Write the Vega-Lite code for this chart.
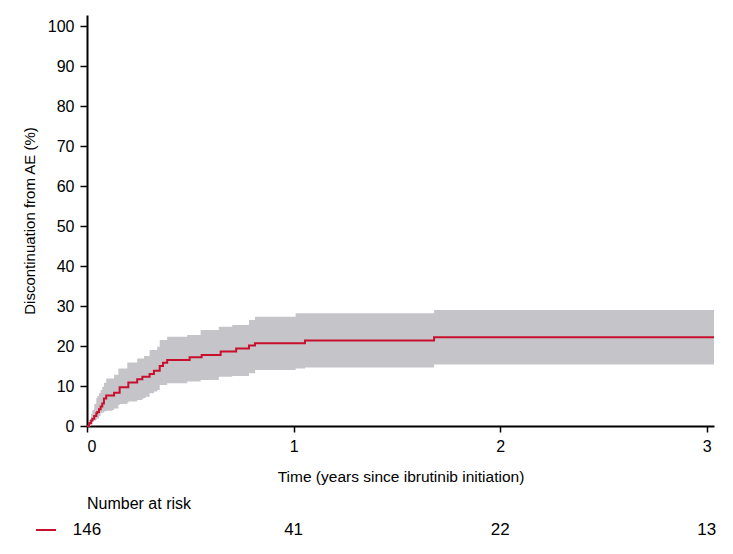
{
  "$schema": "https://vega.github.io/schema/vega-lite/v6.json",
  "padding": {"left": 22, "top": 15, "right": 5, "bottom": 5},
  "background": "white",
  "config": {
    "view": {"stroke": null},
    "font": "Liberation Sans",
    "concat": {"spacing": 11}
  },
  "datasets": {
    "km": [
      {"t": 0, "est": 0, "lo": 0, "hi": 0},
      {"t": 0.01, "est": 0.7, "lo": 0, "hi": 1.5},
      {"t": 0.02, "est": 1.4, "lo": 0.5, "hi": 3.0},
      {"t": 0.026, "est": 1.8, "lo": 1.1, "hi": 4.0},
      {"t": 0.035, "est": 2.5, "lo": 1.4, "hi": 5.5},
      {"t": 0.045, "est": 3.2, "lo": 1.7, "hi": 7.0},
      {"t": 0.05, "est": 3.5, "lo": 1.9, "hi": 7.5},
      {"t": 0.058, "est": 4.2, "lo": 2.5, "hi": 8.2},
      {"t": 0.066, "est": 4.9, "lo": 3.2, "hi": 9.0},
      {"t": 0.074, "est": 5.6, "lo": 3.4, "hi": 9.8},
      {"t": 0.082, "est": 6.9, "lo": 3.6, "hi": 10.8},
      {"t": 0.093, "est": 7.6, "lo": 3.8, "hi": 11.9},
      {"t": 0.123, "est": 7.6, "lo": 4.0, "hi": 11.9},
      {"t": 0.131, "est": 8.3, "lo": 4.4, "hi": 12.8},
      {"t": 0.152, "est": 8.3, "lo": 5.25, "hi": 14.4},
      {"t": 0.158, "est": 9.7, "lo": 5.5, "hi": 14.4},
      {"t": 0.195, "est": 9.7, "lo": 5.8, "hi": 15.9},
      {"t": 0.2, "est": 10.9, "lo": 6.1, "hi": 15.9},
      {"t": 0.243, "est": 11.7, "lo": 6.5, "hi": 16.9},
      {"t": 0.268, "est": 12.3, "lo": 6.9, "hi": 16.9},
      {"t": 0.276, "est": 12.3, "lo": 7.0, "hi": 17.5},
      {"t": 0.284, "est": 12.3, "lo": 7.3, "hi": 17.5},
      {"t": 0.303, "est": 13.0, "lo": 8.2, "hi": 19.0},
      {"t": 0.324, "est": 13.8, "lo": 8.6, "hi": 19.0},
      {"t": 0.34, "est": 13.8, "lo": 9.0, "hi": 19.8},
      {"t": 0.352, "est": 15.0, "lo": 10.25, "hi": 21.5},
      {"t": 0.368, "est": 15.8, "lo": 10.25, "hi": 21.5},
      {"t": 0.388, "est": 16.5, "lo": 10.7, "hi": 22.3},
      {"t": 0.485, "est": 16.5, "lo": 11.1, "hi": 22.75},
      {"t": 0.497, "est": 17.2, "lo": 11.1, "hi": 22.75},
      {"t": 0.55, "est": 17.2, "lo": 11.5, "hi": 24.0},
      {"t": 0.555, "est": 17.75, "lo": 11.5, "hi": 24.0},
      {"t": 0.638, "est": 17.75, "lo": 12.3, "hi": 24.8},
      {"t": 0.647, "est": 18.6, "lo": 12.3, "hi": 24.8},
      {"t": 0.703, "est": 18.6, "lo": 12.5, "hi": 25.25},
      {"t": 0.722, "est": 19.4, "lo": 12.5, "hi": 25.25},
      {"t": 0.784, "est": 20.1, "lo": 13.2, "hi": 26.5},
      {"t": 0.813, "est": 20.7, "lo": 14.0, "hi": 27.3},
      {"t": 1.01, "est": 20.7, "lo": 14.4, "hi": 28.2},
      {"t": 1.055, "est": 21.4, "lo": 14.6, "hi": 28.2},
      {"t": 1.68, "est": 22.2, "lo": 15.4, "hi": 29.0},
      {"t": 3.035, "est": 22.2, "lo": 15.4, "hi": 29.0}
    ],
    "risk": [
      {"t": 0, "n": 146, "grp": "all"},
      {"t": 1, "n": 41, "grp": "all"},
      {"t": 2, "n": 22, "grp": "all"},
      {"t": 3, "n": 13, "grp": "all"}
    ]
  },
  "vconcat": [
    {
      "width": 627,
      "height": 411,
      "data": {"name": "km"},
      "encoding": {
        "x": {
          "field": "t",
          "type": "quantitative",
          "scale": {"domain": [0, 3.035], "nice": false, "zero": false},
          "axis": {
            "values": [0, 1, 2, 3],
            "format": "d",
            "title": "Time (years since ibrutinib initiation)",
            "titleFont": "Liberation Sans",
            "titleFontSize": 15.5,
            "titleFontWeight": "normal",
            "titleColor": "black",
            "titlePadding": 15,
            "labelFont": "Liberation Sans",
            "labelFontSize": 16,
            "labelColor": "black",
            "labelPadding": 6,
            "domainColor": "black",
            "domainWidth": 2,
            "tickColor": "black",
            "tickWidth": 1.5,
            "tickSize": 6,
            "grid": false
          }
        }
      },
      "layer": [
        {
          "mark": {"type": "area", "interpolate": "step-after", "color": "#c5c4c9", "opacity": 1},
          "encoding": {
            "y": {
              "field": "lo",
              "type": "quantitative",
              "scale": {"domain": [0, 102.75], "nice": false},
              "axis": {
                "values": [0, 10, 20, 30, 40, 50, 60, 70, 80, 90, 100],
                "title": "Discontinuation from AE (%)",
                "titleFont": "Liberation Sans",
                "titleFontSize": 15,
                "titleFontWeight": "normal",
                "titleColor": "black",
                "titlePadding": 10,
                "labelFont": "Liberation Sans",
                "labelFontSize": 16,
                "labelColor": "black",
                "labelPadding": 6,
                "domainColor": "black",
                "domainWidth": 2,
                "tickColor": "black",
                "tickWidth": 1.5,
                "tickSize": 7,
                "grid": false
              }
            },
            "y2": {"field": "hi"}
          }
        },
        {
          "mark": {"type": "line", "interpolate": "step-after", "color": "#c8102e", "strokeWidth": 2},
          "encoding": {
            "y": {"field": "est", "type": "quantitative"}
          }
        }
      ]
    },
    {
      "width": 627,
      "height": 20,
      "title": {
        "text": "Number at risk",
        "anchor": "start",
        "frame": "group",
        "font": "Liberation Sans",
        "fontSize": 16,
        "fontWeight": "normal",
        "color": "black",
        "offset": 8
      },
      "data": {"name": "risk"},
      "encoding": {
        "x": {
          "field": "t",
          "type": "quantitative",
          "scale": {"domain": [0, 3.035], "nice": false, "zero": false},
          "axis": null
        },
        "y": {"field": "grp", "type": "nominal", "axis": null}
      },
      "layer": [
        {
          "mark": {"type": "text", "fontSize": 17, "baseline": "middle", "align": "center", "color": "black", "font": "Liberation Sans"},
          "encoding": {"text": {"field": "n", "type": "quantitative"}}
        },
        {
          "mark": {"type": "rule", "color": "#c8102e", "strokeWidth": 2},
          "encoding": {
            "x": {"datum": -0.245, "type": "quantitative"},
            "x2": {"datum": -0.15}
          }
        }
      ]
    }
  ]
}
